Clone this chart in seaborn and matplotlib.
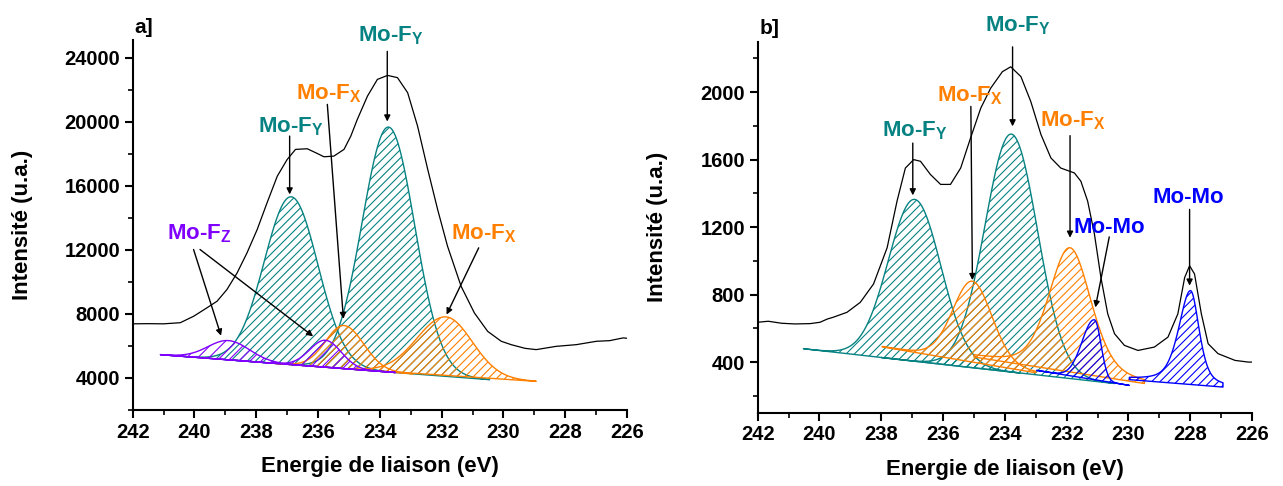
import numpy as np
import pandas as pd
import matplotlib
matplotlib.use("Agg")
import matplotlib.pyplot as plt
from matplotlib.ticker import MultipleLocator
import seaborn as sns

# ---------------- DATA ----------------
# Panel a : measured envelope (binding energy eV, intensity)
env_a_x = [242.0, 241.5, 241.0, 240.46, 240.03, 239.60, 239.27, 238.95, 238.62, 238.30,
           237.97, 237.65, 237.32, 237.00, 236.73, 236.35, 236.03, 235.81, 235.49, 235.16,
           234.94, 234.73, 234.40, 234.08, 233.75, 233.43, 233.10, 232.78, 232.45, 232.13,
           231.81, 231.37, 230.94, 230.51, 230.07, 229.75, 229.30, 228.94, 228.29, 227.64,
           226.99, 226.56, 226.13, 226.0]
env_a_y = [7380, 7390, 7380, 7450, 7850, 8375, 8790, 9520, 10560, 11810,
           13270, 14940, 16600, 17640, 18270, 18310, 18020, 17810, 17850, 18270,
           19100, 20140, 21600, 22640, 22890, 22750, 21810, 19730, 17020, 14520,
           12230, 9725, 8060, 6910, 6290, 6080, 5850, 5770, 5975, 6080,
           6290, 6330, 6500, 6480]

# Panel a : fitted components
comp_a_name   = ["Mo-F_Y", "Mo-F_Y", "Mo-F_X", "Mo-F_X", "Mo-F_Z", "Mo-F_Z"]
comp_a_center = [236.87, 233.72, 235.16, 231.86, 238.90, 235.76]
comp_a_height = [10475, 15290, 2690, 3650, 1200, 1680]
comp_a_hwhm_l = [1.02, 1.00, 0.70, 1.10, 0.78, 0.60]
comp_a_hwhm_r = [1.02, 1.00, 0.75, 1.00, 0.80, 0.60]
comp_a_lor    = [0.0, 0.0, 0.0, 0.0, 0.0, 0.0]
comp_a_start  = [241.1, 239.0, 237.5, 235.0, 241.1, 241.1]
comp_a_end    = [233.5, 230.45, 232.93, 228.94, 233.5, 233.5]
comp_a_bstart = [5455, 5147, 4925, 4561, 5455, 5455]
comp_a_bend   = [4341, 3894, 4258, 3790, 4341, 4341]

# Panel b : measured envelope
env_b_x = [242.0, 241.66, 241.22, 240.79, 240.30, 239.98, 239.75, 239.55, 239.11, 238.68,
           238.25, 237.81, 237.49, 237.22, 236.95, 236.73, 236.41, 236.08, 235.76, 235.43,
           235.11, 234.78, 234.46, 234.08, 233.81, 233.48, 233.16, 232.83, 232.51, 232.19,
           231.75, 231.54, 231.32, 231.10, 230.89, 230.67, 230.45, 230.13, 229.69, 229.16,
           228.72, 228.40, 228.18, 228.02, 227.86, 227.64, 227.42, 227.10, 226.55, 226.12,
           226.0]
env_b_y = [636, 642, 630, 626, 628, 636, 655, 666, 695, 754,
           863, 1078, 1354, 1550, 1600, 1590, 1512, 1453, 1453, 1550,
           1728, 1905, 2023, 2121, 2150, 2092, 1944, 1748, 1610, 1550,
           1521, 1472, 1354, 1158, 901, 686, 568, 499, 469, 489,
           548, 686, 901, 971, 922, 686, 509, 450, 410, 400,
           400]

# Panel b : fitted components
comp_b_name   = ["Mo-F_Y", "Mo-F_Y", "Mo-F_X", "Mo-F_X", "Mo-Mo", "Mo-Mo"]
comp_b_center = [236.92, 233.79, 235.05, 231.89, 231.10, 227.99]
comp_b_height = [959, 1410, 479, 736, 355, 556]
comp_b_hwhm_l = [1.00, 1.00, 0.75, 0.80, 0.47, 0.45]
comp_b_hwhm_r = [1.00, 1.00, 0.75, 0.80, 0.25, 0.33]
comp_b_lor    = [0.0, 0.0, 0.1, 0.3, 0.0, 0.5]
comp_b_start  = [240.52, 238.0, 237.97, 235.0, 232.97, 229.97]
comp_b_end    = [233.5, 230.45, 233.0, 229.48, 229.97, 226.94]
comp_b_bstart = [479, 427, 490, 430, 351, 296]
comp_b_bend   = [335, 273, 337, 273, 262, 252]

# Tick settings
xticks = [242, 240, 238, 236, 234, 232, 230, 228, 226]
yticks_a = [4000, 8000, 12000, 16000, 20000, 24000]
yticks_b = [400, 800, 1200, 1600, 2000]

# ---------------- STYLE ----------------
sns.set_style("ticks")
plt.rcParams['font.family'] = ['Liberation Sans', 'DejaVu Sans']
plt.rcParams['font.weight'] = 'bold'
plt.rcParams['hatch.linewidth'] = 0.8
for k in ('text.color', 'axes.labelcolor', 'xtick.color', 'ytick.color', 'axes.edgecolor'):
    plt.rcParams[k] = 'black'

COL = {"Mo-F_Y": "#078282", "Mo-F_X": "#ff8000", "Mo-F_Z": "#8000ff", "Mo-Mo": "#0000ff"}
HATCH = {"Mo-F_Y": "////", "Mo-F_X": "////", "Mo-F_Z": "///", "Mo-Mo": "////"}
ORDER = {"Mo-F_Y": 0, "Mo-F_X": 1, "Mo-F_Z": 2, "Mo-Mo": 3}


def profile(x, c, h, wl, wr, eta):
    w = np.where(x > c, wl, wr)
    u = (x - c) / w
    g = np.exp(-np.log(2) * u ** 2)
    lo = 1.0 / (1.0 + u ** 2)
    return h * ((1 - eta) * g + eta * lo)


def label_text(name):
    if name.startswith("Mo-F_"):
        return "Mo-F$_\\mathregular{" + name[-1] + "}$"
    return name


fig = plt.figure(figsize=(12.83, 4.86), dpi=100)
ax_a = fig.add_axes([132.7 / 1283, 1 - 410 / 486, 494.3 / 1283, 370 / 486])
ax_b = fig.add_axes([757.7 / 1283, 1 - 412.7 / 486, 494.3 / 1283, 371.2 / 486])


def draw_panel(ax, ex, ey, names, cen, hei, wl, wr, lor, st, en, bs, be):
    df = pd.DataFrame({"E": ex, "I": ey})
    sns.lineplot(data=df, x="E", y="I", ax=ax, color="black", lw=0.9, sort=False,
                 zorder=5)
    idx = sorted(range(len(names)), key=lambda i: ORDER[names[i]])
    for i in idx:
        x = np.linspace(st[i], en[i], 400)
        base = bs[i] + (be[i] - bs[i]) * (x - st[i]) / (en[i] - st[i])
        y = base + profile(x, cen[i], hei[i], wl[i], wr[i], lor[i])
        col = COL[names[i]]
        with plt.rc_context({'hatch.color': col}):
            ax.fill_between(x, base, y, facecolor="none", edgecolor=col,
                            hatch=HATCH[names[i]], lw=1.0, zorder=3)


draw_panel(ax_a, env_a_x, env_a_y, comp_a_name, comp_a_center, comp_a_height,
           comp_a_hwhm_l, comp_a_hwhm_r, comp_a_lor, comp_a_start, comp_a_end,
           comp_a_bstart, comp_a_bend)
draw_panel(ax_b, env_b_x, env_b_y, comp_b_name, comp_b_center, comp_b_height,
           comp_b_hwhm_l, comp_b_hwhm_r, comp_b_lor, comp_b_start, comp_b_end,
           comp_b_bstart, comp_b_bend)

# annotations: (name, text x, text baseline y, [arrows (tail x, tail y, head x, head y)])
ann_a = [
    ("Mo-F_Y", 234.72, 25037, [(233.76, 24390, 233.76, 20010)]),
    ("Mo-F_Y", 237.93, 19330, [(236.92, 19100, 236.92, 15456)]),
    ("Mo-F_X", 236.70, 21390, [(235.70, 21080, 235.18, 7690)]),
    ("Mo-F_X", 231.70, 12640, [(230.80, 12125, 231.84, 7956)]),
    ("Mo-F_Z", 240.90, 12640, [(240.03, 12020, 239.14, 6640),
                               (239.82, 12020, 236.16, 6600)]),
]
ann_b = [
    ("Mo-F_Y", 237.97, 1738, [(236.98, 1698, 236.98, 1388)]),
    ("Mo-F_X", 236.19, 1944, [(235.10, 1915, 235.05, 886)]),
    ("Mo-F_Y", 234.65, 2357, [(233.75, 2268, 233.75, 1797)]),
    ("Mo-F_X", 232.86, 1797, [(231.89, 1742, 231.89, 1137)]),
    ("Mo-Mo", 231.77, 1167, [(230.62, 1142, 231.07, 724)]),
    ("Mo-Mo", 229.21, 1344, [(228.02, 1305, 228.02, 853)]),
]

for ax, anns in ((ax_a, ann_a), (ax_b, ann_b)):
    for name, tx, ty, arrows in anns:
        ax.text(tx, ty, label_text(name), color=COL[name], fontsize=16,
                fontweight='bold', ha='left', va='baseline', clip_on=False, zorder=6)
        for (x0, y0, x1, y1) in arrows:
            ax.annotate("", xy=(x1, y1), xytext=(x0, y0),
                        arrowprops=dict(arrowstyle='-|>', color='black', lw=1.0,
                                        mutation_scale=9, shrinkA=0, shrinkB=0),
                        zorder=6, annotation_clip=False)

for ax, yt, ylim, minor, lab, lx in (
        (ax_a, yticks_a, (2000, 25100), 2000, "a]", -0.202),
        (ax_b, yticks_b, (100, 2300), 200, "b]", -0.181)):
    ax.set_xlim(242, 226)
    ax.set_ylim(*ylim)
    ax.set_xticks(xticks)
    ax.set_yticks(yt)
    ax.xaxis.set_minor_locator(MultipleLocator(1))
    ax.yaxis.set_minor_locator(MultipleLocator(minor))
    ax.set_xticklabels([str(v) for v in xticks])
    ax.set_yticklabels([str(v) for v in yt])
    sns.despine(ax=ax)
    for s in ("left", "bottom"):
        ax.spines[s].set_linewidth(1.5)
        ax.spines[s].set_color('black')
    ax.tick_params(which='major', direction='out', length=5.5, width=1.5,
                   labelsize=14.5, pad=3.5, colors='black')
    ax.tick_params(which='minor', direction='out', length=3.5, width=1.2, colors='black')
    for t in ax.get_xticklabels() + ax.get_yticklabels():
        t.set_fontweight('bold')
    ax.set_xlabel("Energie de liaison (eV)", fontsize=16, fontweight='bold', color='black')
    ax.set_ylabel("Intensité (u.a.)", fontsize=16, fontweight='bold', color='black')
    ax.xaxis.set_label_coords(0.5, -0.125)
    ax.yaxis.set_label_coords(lx, 0.5)
    ax.text(0.003, 1.02, lab, transform=ax.transAxes, fontsize=15,
            fontweight='bold', ha='left', va='baseline', color='black')

fig.savefig("out.png", dpi=100)
